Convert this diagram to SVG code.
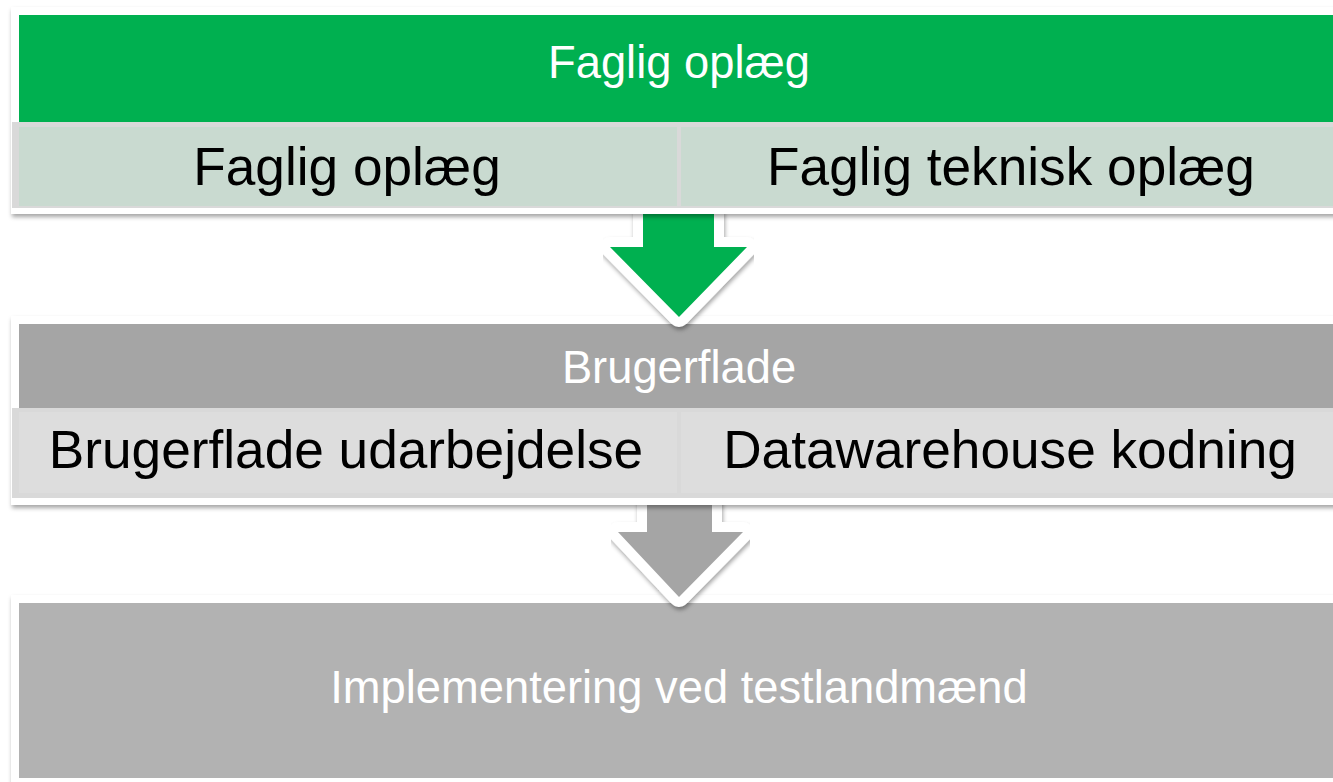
<svg xmlns="http://www.w3.org/2000/svg" width="1333" height="782" viewBox="0 0 1333 782">
  <defs>
    <filter id="sh" x="-5%" y="-10%" width="110%" height="130%">
      <feDropShadow dx="1" dy="3" stdDeviation="2" flood-color="#000" flood-opacity="0.35"/>
    </filter>
    <style>
      .frame { fill: #ffffff; filter: url(#sh); }
      .band { fill: #D9D9D9; }
      .hdr { font-family: "Liberation Sans", Arial, sans-serif; font-size: 45.3px; fill: #ffffff; text-anchor: middle; }
      .cell { font-family: "Liberation Sans", Arial, sans-serif; font-size: 53.2px; fill: #000000; text-anchor: middle; }
      .outline { fill: none; stroke: #ffffff; stroke-width: 20; stroke-linejoin: round; filter: url(#sh); }
    </style>
  </defs>
  <rect width="1333" height="782" fill="#ffffff"/>

  <g id="block3">
    <rect class="frame" x="11" y="595" width="1340" height="200"/>
    <rect x="19" y="603" width="1330" height="175" fill="#B2B2B2"/>
    <text class="hdr" x="679" y="703">Implementering ved testlandmænd</text>
  </g>

  <g id="connectors">
    <g id="arrow2">
      <path class="outline" d="M647,498 V532 H618 L679,597 L743,532 H712 V498"/>
      <polygon points="647,496 712,496 712,532 743,532 679,597 618,532 647,532" fill="#A5A5A5"/>
    </g>
  </g>

  <g id="block2">
    <rect class="frame" x="11" y="316" width="1340" height="189"/>
    <rect x="19" y="324" width="1330" height="85" fill="#A5A5A5"/>
    <rect class="band" x="12" y="408" width="1340" height="90"/>
    <rect x="19" y="412" width="658" height="81" fill="#DDDDDD"/>
    <rect x="681" y="412" width="670" height="81" fill="#DDDDDD"/>
    <text class="hdr" x="679" y="383">Brugerflade</text>
    <text class="cell" x="346" y="468">Brugerflade udarbejdelse</text>
    <text class="cell" x="1010" y="468">Datawarehouse kodning</text>
  </g>

  <g id="connectors2">
    <g id="arrow1">
      <path class="outline" d="M643,210 V247 H610 L679,317 L747,247 H714 V210"/>
      <polygon points="643,207 714,207 714,247 747,247 679,317 610,247 643,247" fill="#00B050"/>
    </g>
  </g>

  <g id="block1">
    <rect class="frame" x="11" y="7" width="1340" height="207"/>
    <rect x="19" y="15" width="1330" height="108" fill="#00B050"/>
    <rect class="band" x="12" y="122" width="1340" height="86"/>
    <rect x="19" y="127" width="658" height="79" fill="#C9DAD0"/>
    <rect x="681" y="127" width="670" height="79" fill="#C9DAD0"/>
    <text class="hdr" x="679" y="78">Faglig oplæg</text>
    <text class="cell" x="347" y="185">Faglig oplæg</text>
    <text class="cell" x="1011" y="185">Faglig teknisk oplæg</text>
  </g>
</svg>
